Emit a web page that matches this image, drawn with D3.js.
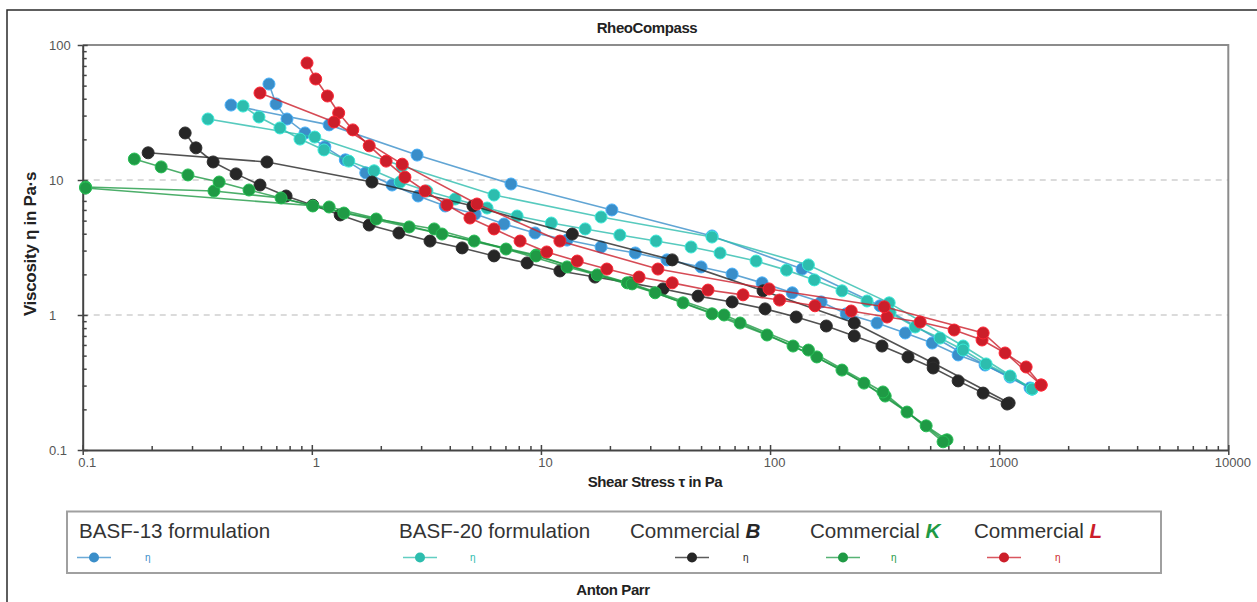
<!DOCTYPE html>
<html>
<head>
<meta charset="utf-8">
<script src="https://cdn.jsdelivr.net/npm/d3@7"></script>
<style>
  body { margin: 0; background: #fff; }
  svg { display: block; font-family: "Liberation Sans", Arial, sans-serif; }
</style>
</head>
<body>
<svg id="chart" width="1257" height="602"></svg>
<script>
// Flow curves: each run is a list of [shear stress τ (Pa), viscosity η (Pa·s)]
const basf13RunA = [[0.444,35.9],[1.19,25.6],[2.88,15.3],[7.40,9.34],[20.4,6.0],[55.8,3.85],[138,2.19],[302,1.17],[675,0.532],[1364,0.288]];
const basf13RunB = [[0.650,51.4],[0.698,36.6],[0.779,28.3],[0.934,22.3],[1.14,17.6],[1.40,14.1],[1.72,11.3],[2.24,9.18],[2.91,7.61],[3.82,6.42],[5.16,5.60],[6.90,4.72],[9.42,4.05],[13.0,3.59],[18.3,3.19],[25.8,2.88],[35.5,2.56],[50.0,2.27],[68.3,2.01],[92.3,1.73],[125,1.46],[167,1.25],[215,1.02],[293,0.872],[389,0.736],[510,0.620],[662,0.506],[868,0.426],[1116,0.347],[1392,0.283]];

const basf20RunA = [[0.352,28.3],[1.03,20.8],[2.48,12.7],[6.24,7.74],[18.3,5.32],[55.8,3.78],[147,2.35],[331,1.23],[696,0.589],[1392,0.283]];
const basf20RunB = [[0.501,35.3],[0.588,29.3],[0.726,24.3],[0.888,20.1],[1.13,16.7],[1.45,13.8],[1.87,11.7],[2.43,9.66],[3.18,8.29],[4.22,7.23],[5.82,6.20],[7.87,5.41],[11.1,4.80],[15.6,4.34],[22.1,3.91],[31.8,3.53],[45.2,3.19],[60.5,2.88],[86.9,2.51],[118,2.15],[156,1.82],[206,1.51],[265,1.27],[334,1.04],[430,0.815],[552,0.675],[696,0.55],[877,0.434],[1116,0.353],[1392,0.283]];

const commBRunA = [[0.193,15.9],[0.637,13.6],[1.83,9.66],[5.05,6.42],[13.7,3.98],[37.4,2.56],[93.2,1.51],[233,0.872],[515,0.441],[1105,0.223]];
const commBRunB = [[0.280,22.3],[0.312,17.3],[0.371,13.6],[0.467,11.1],[0.594,9.18],[0.772,7.61],[1.01,6.5],[1.33,5.51],[1.78,4.64],[2.40,4.05],[3.28,3.53],[4.53,3.14],[6.24,2.74],[8.70,2.43],[12.1,2.12],[17.2,1.91],[24.5,1.73],[34.1,1.56],[48.5,1.38],[68.3,1.25],[95.1,1.11],[130,0.966],[176,0.829],[233,0.699],[308,0.589],[400,0.489],[515,0.405],[662,0.325],[851,0.264],[1083,0.219]];

const commKRunA = [[0.103,8.87],[0.374,8.29],[0.734,7.36],[1.38,5.69],[2.66,4.49],[5.11,3.53],[9.52,2.78],[17.6,1.98],[31.5,1.46],[55.8,1.02],[97.0,0.711],[160,0.489],[257,0.313],[396,0.191],[580,0.117]];
const commKRunB = [[0.168,14.3],[0.220,12.5],[0.288,10.9],[0.394,9.66],[0.532,8.43],[1.01,6.42],[1.91,5.14],[3.42,4.34],[7.04,3.08],[13.0,2.27],[23.8,1.73],[41.7,1.23],[74.0,0.872],[126,0.589],[206,0.391],[318,0.251],[480,0.151],[592,0.119]];
const commKRunC = [[0.103,8.72],[1.19,6.31],[3.70,3.98],[9.52,2.74],[25.0,1.70],[63.0,1.0],[147,0.55],[311,0.269],[569,0.115]];

const commLRunA = [[0.953,73.6],[1.04,56.0],[1.17,41.9],[1.31,31.4],[1.51,23.5],[1.78,17.9],[2.11,13.8],[2.55,10.5],[3.12,8.29],[3.89,6.53],[4.90,5.23],[6.24,4.34],[8.11,3.53],[10.6,2.93],[14.4,2.51],[19.4,2.19],[26.8,1.91],[37.4,1.73],[53.6,1.53],[76.2,1.41],[110,1.29],[157,1.17],[226,1.07],[324,0.966],[452,0.887],[636,0.774],[842,0.653],[1061,0.523],[1311,0.412],[1524,0.303]];
const commLRunB = [[0.594,44.1],[1.25,26.9],[2.48,13.1],[5.26,6.64],[12.1,3.53],[32.4,2.19],[99.0,1.56],[315,1.15],[851,0.736],[1524,0.303]];

const seriesNames = ["BASF-13 formulation", "BASF-20 formulation", "Commercial B", "Commercial K", "Commercial L"];
const seriesRuns = [
  [basf13RunA, basf13RunB],
  [basf20RunA, basf20RunB],
  [commBRunA, commBRunB],
  [commKRunA, commKRunB, commKRunC],
  [commLRunA, commLRunB]
];
const seriesColors = ["#3a8ec9", "#2dbdae", "#262626", "#1f9a45", "#cc1e2a"];

const xMajor = [0.1, 1, 10, 100, 1000, 10000];
const xTickLabels = ["0.1", "1", "10", "100", "1000", "10000"];
const yMajor = [0.1, 1, 10, 100];
const yTickLabels = ["0.1", "1", "10", "100"];
const yGrid = [1, 10];

const svg = d3.select("#chart");

// outer frame (top and left edges)
svg.append("path")
  .attr("d", "M7,602 V10 H1257")
  .attr("fill", "none").attr("stroke", "#2a2a2a").attr("stroke-width", 1.5);

const plot = { left: 82.7, right: 1228.3, top: 45, bottom: 450 };
const x = d3.scaleLog().domain([0.1, 10000]).range([plot.left, plot.right]);
const y = d3.scaleLog().domain([0.1, 100]).range([plot.bottom, plot.top]);

// minor tick values for each decade
function minorTicks(lo, hi) {
  const out = [];
  for (let d = lo; d < hi; d *= 10) for (let k = 2; k <= 9; k++) out.push(+(d * k).toPrecision(3));
  return out;
}

// dashed horizontal grid
svg.append("g").selectAll("line").data(yGrid).join("line")
  .attr("x1", plot.left).attr("x2", plot.right)
  .attr("y1", d => y(d)).attr("y2", d => y(d))
  .attr("stroke", "#d0d0d0").attr("stroke-width", 1.5).attr("stroke-dasharray", "6,5");

// top and right frame of the plot area
svg.append("path")
  .attr("d", `M${plot.left},${plot.top} H${plot.right} V${plot.bottom}`)
  .attr("fill", "none").attr("stroke", "#8c8c8c").attr("stroke-width", 2);

// x axis
const gx = svg.append("g").attr("transform", `translate(0,${plot.bottom})`);
gx.append("g").call(d3.axisBottom(x).tickValues(minorTicks(0.1, 10000)).tickSize(-4).tickSizeOuter(0).tickFormat(""))
  .call(g => g.select(".domain").attr("stroke", "#444").attr("stroke-width", 2));
gx.append("g").call(d3.axisBottom(x).tickValues(xMajor).tickSize(-5).tickFormat(""))
  .call(g => g.select(".domain").remove());
gx.append("g").call(d3.axisBottom(x).tickValues(xMajor).tickSize(5).tickPadding(3)
    .tickFormat((d, i) => xTickLabels[i]))
  .call(g => g.select(".domain").remove())
  .call(g => g.selectAll("text").attr("dx", 4).attr("fill", "#555").attr("font-size", 13));
gx.selectAll(".tick line").attr("stroke", "#444").attr("stroke-width", 1.5);

// y axis
const gy = svg.append("g").attr("transform", `translate(${plot.left},0)`);
gy.append("g").call(d3.axisLeft(y).tickValues(minorTicks(0.1, 100)).tickSize(-4).tickSizeOuter(0).tickFormat(""))
  .call(g => g.select(".domain").attr("stroke", "#444").attr("stroke-width", 2));
gy.append("g").call(d3.axisLeft(y).tickValues(yMajor).tickSize(-5).tickFormat(""))
  .call(g => g.select(".domain").remove());
gy.append("g").call(d3.axisLeft(y).tickValues(yMajor).tickSize(5)
    .tickFormat((d, i) => yTickLabels[i]))
  .call(g => g.select(".domain").remove())
  .call(g => g.selectAll("text").attr("x", 49 - plot.left).attr("text-anchor", "start")
    .attr("fill", "#555").attr("font-size", 13));
gy.selectAll(".tick line").attr("stroke", "#444").attr("stroke-width", 1.5);

// titles
svg.append("text").attr("x", 647).attr("y", 33).attr("text-anchor", "middle")
  .attr("font-weight", "bold").attr("font-size", 15).attr("letter-spacing", -0.4)
  .attr("fill", "#222").text("RheoCompass");
svg.append("text").attr("x", 655).attr("y", 487).attr("text-anchor", "middle")
  .attr("font-weight", "bold").attr("font-size", 15).attr("letter-spacing", -0.4)
  .attr("fill", "#222").text("Shear Stress τ in Pa");
svg.append("text").attr("transform", "translate(36,244) rotate(-90)").attr("text-anchor", "middle")
  .attr("font-weight", "bold").attr("font-size", 17).attr("letter-spacing", -0.3)
  .attr("fill", "#222").text("Viscosity η in Pa·s");
svg.append("text").attr("x", 613).attr("y", 595).attr("text-anchor", "middle")
  .attr("font-weight", "bold").attr("font-size", 15).attr("letter-spacing", -0.4)
  .attr("fill", "#222").text("Anton Parr");

// data series
const line = d3.line().x(d => x(d[0])).y(d => y(d[1]));
const gData = svg.append("g");
seriesRuns.forEach((runs, si) => {
  const col = seriesColors[si];
  const edge = d3.color(col).brighter(0.6).formatHex();
  const gs = gData.append("g");
  runs.forEach(run => {
    gs.append("path").datum(run).attr("d", line)
      .attr("fill", "none").attr("stroke", col).attr("stroke-opacity", 0.8).attr("stroke-width", 1.6);
  });
  runs.forEach(run => {
    gs.append("g").selectAll("circle").data(run).join("circle")
      .attr("cx", d => x(d[0])).attr("cy", d => y(d[1])).attr("r", 6)
      .attr("fill", col).attr("stroke", edge).attr("stroke-width", 1);
  });
});

// legend
svg.append("rect").attr("x", 67).attr("y", 511.5).attr("width", 1094).attr("height", 61.5)
  .attr("fill", "none").attr("stroke", "#a0a0a0").attr("stroke-width", 2);
const legendX = [79, 399, 630, 810, 974];
const legendMarkerX = [94, 420, 692, 843, 1004];
const legendEtaX = [145, 470, 743, 891, 1055];
seriesNames.forEach((name, i) => {
  const col = seriesColors[i];
  const t = svg.append("text").attr("x", legendX[i]).attr("y", 538).attr("font-size", 20.6).attr("fill", "#333");
  if (name.startsWith("Commercial")) {
    const parts = name.split(" ");
    t.append("tspan").text(parts[0] + " ");
    t.append("tspan").attr("font-weight", "bold").attr("font-style", "italic").attr("fill", col).text(parts[1]);
  } else {
    t.text(name);
  }
  const mx = legendMarkerX[i];
  svg.append("line").attr("x1", mx - 17).attr("x2", mx + 17).attr("y1", 557.5).attr("y2", 557.5)
    .attr("stroke", col).attr("stroke-opacity", 0.75).attr("stroke-width", 1.6);
  svg.append("circle").attr("cx", mx).attr("cy", 557.5).attr("r", 5).attr("fill", col);
  svg.append("text").attr("x", legendEtaX[i]).attr("y", 561).attr("font-size", 10).attr("fill", col).text("η");
});
</script>
</body>
</html>
